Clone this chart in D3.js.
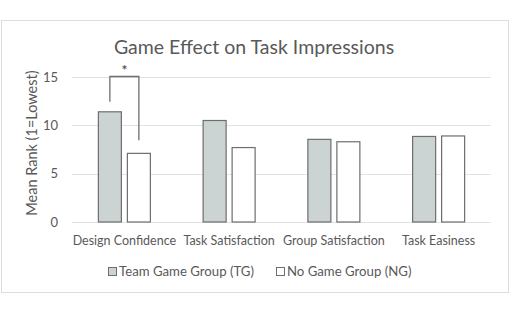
<!DOCTYPE html>
<html><head><meta charset="utf-8">
<script src="https://cdn.jsdelivr.net/npm/d3@7"></script>
<style>
html,body{margin:0;padding:0;background:#fff;}
svg{display:block;}
text{font-family:Lato, "Open Sans", sans-serif;fill:#595959;}
</style></head>
<body>
<svg id="chart" width="522" height="336"></svg>
<script>
const categories = ["Design Confidence","Task Satisfaction","Group Satisfaction","Task Easiness"];
const seriesNames = ["Team Game Group (TG)","No Game Group (NG)"];
const tgValues = [11.4, 10.5, 8.55, 8.85];
const ngValues = [7.1, 7.7, 8.3, 8.9];
const yTicks = [0,5,10,15];
const title = "Game Effect on Task Impressions";
const yTitle = "Mean Rank (1=Lowest)";

const svg = d3.select("#chart");
const colors = {TG:"#ccd3d3", NG:"#ffffff"};
const stroke = "#6e6e6e";

// frame
svg.append("rect").attr("x",1.5).attr("y",20.5).attr("width",507).attr("height",272)
  .attr("fill","#fff").attr("stroke","#d9dede").attr("stroke-width",1);

const x = d3.scaleBand().domain(categories).range([72,491]).paddingInner(0).paddingOuter(0);
const y = d3.scaleLinear().domain([0,15]).range([222,77]);

// gridlines
svg.append("g").selectAll("line").data(yTicks).join("line")
  .attr("x1",72).attr("x2",491)
  .attr("y1",d=>Math.round(y(d))+0.5).attr("y2",d=>Math.round(y(d))+0.5)
  .attr("stroke","#dfe3e3").attr("stroke-width",1);

// y axis labels
const yAxis = d3.axisLeft(y).tickValues(yTicks).tickSize(0).tickPadding(0);
const ya = svg.append("g").attr("transform","translate(58,0)").call(yAxis);
ya.select(".domain").remove();
ya.selectAll("text").attr("font-size",13).attr("font-family","Lato").attr("fill","#595959");

// x axis labels
const xAxis = d3.axisBottom(x).tickSize(0).tickPadding(0);
const xa = svg.append("g").attr("transform","translate(0,236)").call(xAxis);
xa.select(".domain").remove();
xa.selectAll("text").attr("font-size",12.5).attr("font-family","Lato").attr("fill","#595959");

// bars
const bw = 23, gap = 6;
const g = svg.append("g");
categories.forEach((c,i)=>{
  const cx = x(c)+x.bandwidth()/2;
  [["TG",tgValues[i]],["NG",ngValues[i]]].forEach(([k,v],j)=>{
    const bx = j===0 ? cx-gap/2-bw : cx+gap/2;
    g.append("rect").attr("x",bx).attr("y",y(v)).attr("width",bw).attr("height",y(0)-y(v))
      .attr("fill",colors[k]).attr("stroke",stroke).attr("stroke-width",1.2);
  });
});

// significance bracket
const c0 = x(categories[0])+x.bandwidth()/2;
const lx = c0-gap/2-bw/2, rx = c0+gap/2+bw/2;
svg.append("path")
  .attr("d",`M${lx},${y(tgValues[0]+1.05)} V${y(15.05)} H${rx} V${y(ngValues[0]+1.35)}`)
  .attr("fill","none").attr("stroke","#6e6e6e").attr("stroke-width",1.3);
svg.append("text").attr("x",(lx+rx)/2).attr("y",y(15)-2).attr("text-anchor","middle")
  .attr("font-size",14).attr("font-weight","bold").attr("fill","#404040").text("*");

// title
svg.append("text").attr("x",254).attr("y",53.5).attr("text-anchor","middle")
  .attr("font-size",19.5).attr("fill","#595959").text(title);

// y title
svg.append("text").attr("transform","translate(37,143) rotate(-90)").attr("text-anchor","middle")
  .attr("font-size",14.5).attr("fill","#595959").text(yTitle);

// legend
const leg = svg.append("g");
const legX = [108, 276];
seriesNames.forEach((n,i)=>{
  leg.append("rect").attr("x",legX[i]+0.5).attr("y",267.5).attr("width",8).attr("height",8)
    .attr("fill",i===0?colors.TG:colors.NG).attr("stroke",stroke).attr("stroke-width",1);
  leg.append("text").attr("x",legX[i]+11).attr("y",276).attr("font-size",13.2).text(n);
});
</script>
</body></html>
